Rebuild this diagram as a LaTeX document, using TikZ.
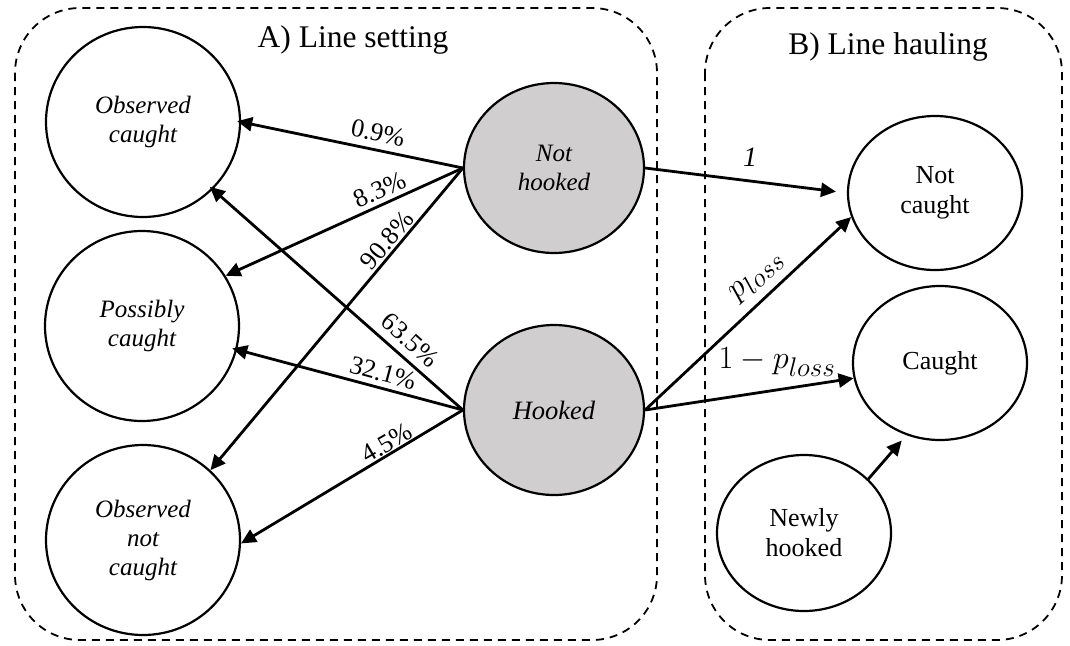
\documentclass[tikz,border=0pt]{standalone}
\usepackage{fontspec}
\setmainfont{Liberation Serif}
\usetikzlibrary{shapes.geometric,arrows.meta}
\definecolor{stategray}{HTML}{D0CECE}
\begin{document}
\begin{tikzpicture}[x=1pt,y=-1pt,
  group/.style={draw,line width=1.8pt,dash pattern=on 8pt off 6pt,rounded corners=65pt},
  title/.style={font=\fontsize{31.5}{34}\selectfont,anchor=base,inner sep=0pt},
  state/.style={ellipse,draw,line width=2.2pt,inner sep=0pt,align=center,
    font=\fontsize{25}{29}\selectfont},
  lstate/.style={state,font=\fontsize{25}{29}\selectfont\itshape,minimum width=194pt,minimum height=190pt},
  gstate/.style={lstate,fill=stategray,minimum width=180pt,minimum height=170pt},
  rstate/.style={state,font=\fontsize{26}{30}\selectfont,minimum width=174pt,minimum height=154pt},
  arr/.style={line width=2.8pt,-{Triangle[length=15pt,width=14pt]}},
  lab/.style={font=\fontsize{26}{29}\selectfont,inner sep=0pt},
  mlab/.style={font=\fontsize{28}{30}\selectfont,inner sep=0pt}
]
\useasboundingbox (0,0) rectangle (1070,645);

% group boxes
\draw[group] (15,8) rectangle (657,640);
\draw[group] (705,8) rectangle (1062,640);
\node[title] (ta) at (353,47) {A) Line setting};
\node[title] (tb) at (888,54) {B) Line hauling};

% states
\node[lstate] (oc)  at (143,122) {Observed\\caught};
\node[lstate] (pc)  at (142,326) {Possibly\\caught};
\node[lstate] (onc) at (143,540) {Observed\\not\\caught};
\node[gstate] (nh)  at (554,168) {Not\\hooked};
\node[gstate,font=\fontsize{26.5}{29}\selectfont\itshape] (hk)  at (554,410) {Hooked};
\node[rstate] (nc)  at (935,193) {Not\\caught};
\node[rstate] (ca)  at (940,363) {Caught};
\node[rstate,minimum height=156pt] (nw) at (804,533) {Newly\\hooked};

% line setting transitions
\draw[arr,shorten >=-4pt] (nh.west) -- (oc.0);
\draw[arr] (nh.west) -- (pc.31);
\draw[arr] (nh.west) -- (onc.46);
\draw[arr,shorten >=-4pt] (hk.west) -- (oc.-44);
\draw[arr,shorten >=-5pt] (hk.west) -- (pc.-14);
\draw[arr] (hk.west) -- (onc.-2);

% line hauling transitions
\draw[arr,shorten >=11pt] (nh.east) -- (nc.west);
\draw[arr] (hk.east) -- (nc.196);
\draw[arr] (hk.east) -- (ca.190);
\draw[arr,shorten >=7pt] (nw.40) -- (ca.245);

% labels
\node[lab,rotate=-11.7] (l1) at (378,133) {0.9\%};
\node[lab,rotate=24.5]  (l2) at (380,190) {8.3\%};
\node[lab,rotate=50]    (l3) at (387,240) {90.8\%};
\node[lab,rotate=-42]   (l4) at (410,340) {63.5\%};
\node[lab,rotate=-15]   (l5) at (383,373) {32.1\%};
\node[lab,rotate=30]    (l6) at (387,443) {4.5\%};
\node[mlab] (l7) at (750,157) {\textit{1}};
\node[mlab,rotate=43] (l8) at (757,277) {\scalebox{1.3}{$p_{loss}$}};
\node[mlab] (l9) at (777,362) {\scalebox{1.3}{$1-p_{loss}$}};
\end{tikzpicture}
\end{document}
